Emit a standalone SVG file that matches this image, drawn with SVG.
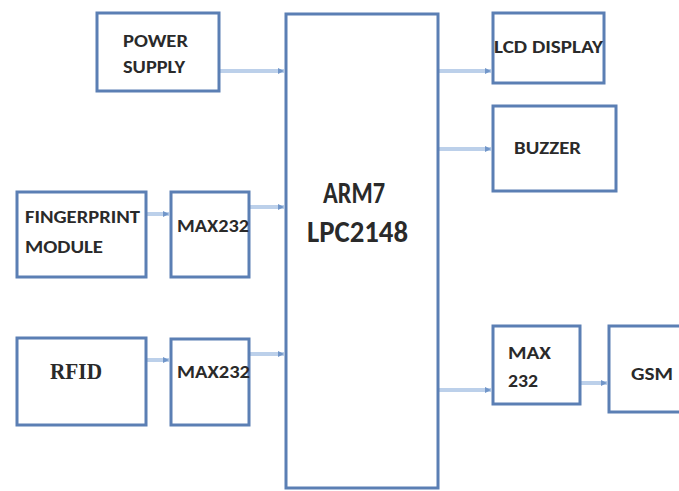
<svg xmlns="http://www.w3.org/2000/svg" width="679" height="491" viewBox="0 0 679 491">
<defs>
<marker id="ah" markerWidth="6" markerHeight="6" refX="6" refY="3" orient="auto" markerUnits="userSpaceOnUse">
<path d="M0,0 L6,3 L0,6 Z" fill="#7196c9"/>
</marker>
<style>
.box{fill:#ffffff;stroke:#5b7fb4;stroke-width:3}
.lbl{font-family:"Carlito","Liberation Sans",Arial,sans-serif;font-weight:bold;fill:#2a2a2a;font-size:17px}
.big{font-family:"Carlito","Liberation Sans",Arial,sans-serif;font-weight:bold;fill:#2a2a2a;font-size:30px}
.serif{font-family:"Liberation Serif","Times New Roman",serif;font-weight:bold;fill:#2a2a2a;font-size:23px}
.con{stroke:#bcd0ea;stroke-width:4;fill:none;marker-end:url(#ah)}
</style>
</defs>
<rect width="679" height="491" fill="#ffffff"/>
<g id="connectors">
<line class="con" x1="219" y1="71" x2="284" y2="71"/>
<line class="con" x1="146" y1="214" x2="169" y2="214"/>
<line class="con" x1="249" y1="207" x2="284" y2="207"/>
<line class="con" x1="146" y1="360" x2="169" y2="360"/>
<line class="con" x1="249" y1="354" x2="284" y2="354"/>
<line class="con" x1="438" y1="71" x2="491" y2="71"/>
<line class="con" x1="438" y1="149" x2="491" y2="149"/>
<line class="con" x1="438" y1="390" x2="491" y2="390"/>
<line class="con" x1="580" y1="383" x2="607" y2="383"/>
</g>
<g id="power">
<rect class="box" x="97" y="13" width="122" height="78"/>
<text class="lbl" x="123" y="47" textLength="65" lengthAdjust="spacingAndGlyphs">POWER</text>
<text class="lbl" x="123" y="73" textLength="62" lengthAdjust="spacingAndGlyphs">SUPPLY</text>
</g>
<g id="arm">
<rect class="box" x="286" y="14" width="152" height="474"/>
<text class="big" x="323" y="203" textLength="62" lengthAdjust="spacingAndGlyphs">ARM7</text>
<text class="big" x="307" y="242" textLength="101" lengthAdjust="spacingAndGlyphs">LPC2148</text>
</g>
<g id="fingerprint">
<rect class="box" x="17" y="192" width="129" height="85"/>
<text class="lbl" x="25" y="223" textLength="115" lengthAdjust="spacingAndGlyphs">FINGERPRINT</text>
<text class="lbl" x="25" y="253" textLength="78" lengthAdjust="spacingAndGlyphs">MODULE</text>
</g>
<g id="max1">
<rect class="box" x="171" y="192" width="78" height="85"/>
<text class="lbl" x="177" y="232" textLength="72" lengthAdjust="spacingAndGlyphs">MAX232</text>
</g>
<g id="rfid">
<rect class="box" x="17" y="338" width="129" height="87"/>
<text class="serif" x="50" y="379" textLength="52" lengthAdjust="spacingAndGlyphs">RFID</text>
</g>
<g id="max2">
<rect class="box" x="171" y="339" width="78" height="86"/>
<text class="lbl" x="177" y="378" textLength="73" lengthAdjust="spacingAndGlyphs">MAX232</text>
</g>
<g id="lcd">
<rect class="box" x="493" y="13" width="111" height="70"/>
<text class="lbl" x="494" y="53" textLength="109" lengthAdjust="spacingAndGlyphs">LCD DISPLAY</text>
</g>
<g id="buzzer">
<rect class="box" x="493" y="106" width="123" height="85"/>
<text class="lbl" x="514" y="154" textLength="67" lengthAdjust="spacingAndGlyphs">BUZZER</text>
</g>
<g id="max3">
<rect class="box" x="493" y="326" width="87" height="78"/>
<text class="lbl" x="508" y="359" textLength="43" lengthAdjust="spacingAndGlyphs">MAX</text>
<text class="lbl" x="508" y="387" textLength="30" lengthAdjust="spacingAndGlyphs">232</text>
</g>
<g id="gsm">
<rect class="box" x="609" y="326" width="80" height="86"/>
<text class="lbl" x="631" y="380" textLength="42" lengthAdjust="spacingAndGlyphs">GSM</text>
</g>
</svg>
